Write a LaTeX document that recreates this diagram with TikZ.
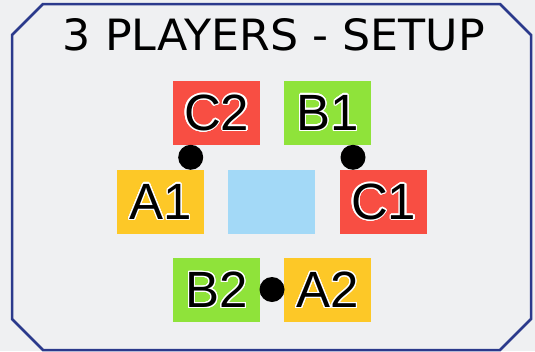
\documentclass[tikz,border=0pt]{standalone}
\usepackage{fontspec}
\setmainfont{Liberation Sans}
\newfontfamily\titlefont{DejaVu Sans}
\usepackage[copies]{contour}
\contournumber{24}
\contourlength{1.2pt}
\definecolor{bgc}{HTML}{EFF0F2}
\definecolor{framec}{HTML}{2B3A8C}
\definecolor{redc}{HTML}{F84E43}
\definecolor{greenc}{HTML}{8FE33A}
\definecolor{yellowc}{HTML}{FDC827}
\definecolor{bluec}{HTML}{A3D9F7}
\begin{document}
\begin{tikzpicture}[x=1pt,y=-1pt,
  tile/.style={fill=#1, minimum width=87pt, minimum height=64pt, inner sep=0pt, anchor=north west,
    font=\fontsize{51}{51}\selectfont},
  seat/.style={fill=black, circle, minimum size=25pt, inner sep=0pt}]
\useasboundingbox (0,0) rectangle (535,351);
\fill[bgc] (0,0) rectangle (535,351);
\draw[framec, line width=2.5pt, fill=bgc] (43,4) -- (500,4) -- (531,35) -- (531,319) -- (500,350) -- (43,350) -- (12,319) -- (12,35) -- cycle;
\node[inner sep=0pt] (title) at (274,34.5) {\resizebox{422pt}{32pt}{\titlefont 3 PLAYERS - SETUP}};
\node[tile=redc] (C2) at (173,81) {\contour{white}{C2}};
\node[tile=greenc] (B1) at (284,81) {\contour{white}{B1}};
\node[tile=yellowc] (A1) at (117,170) {\contour{white}{A1}};
\node[tile=bluec] (mid) at (228,170) {};
\node[tile=redc] (C1) at (340,170) {\contour{white}{C1}};
\node[tile=greenc] (B2) at (173,258) {\contour{white}{B2}};
\node[tile=yellowc] (A2) at (284,258) {\contour{white}{A2}};
\node[seat] (d1) at (190.7,157.3) {};
\node[seat] (d2) at (353,157.3) {};
\node[seat] (d3) at (272,289.5) {};
\end{tikzpicture}
\end{document}
